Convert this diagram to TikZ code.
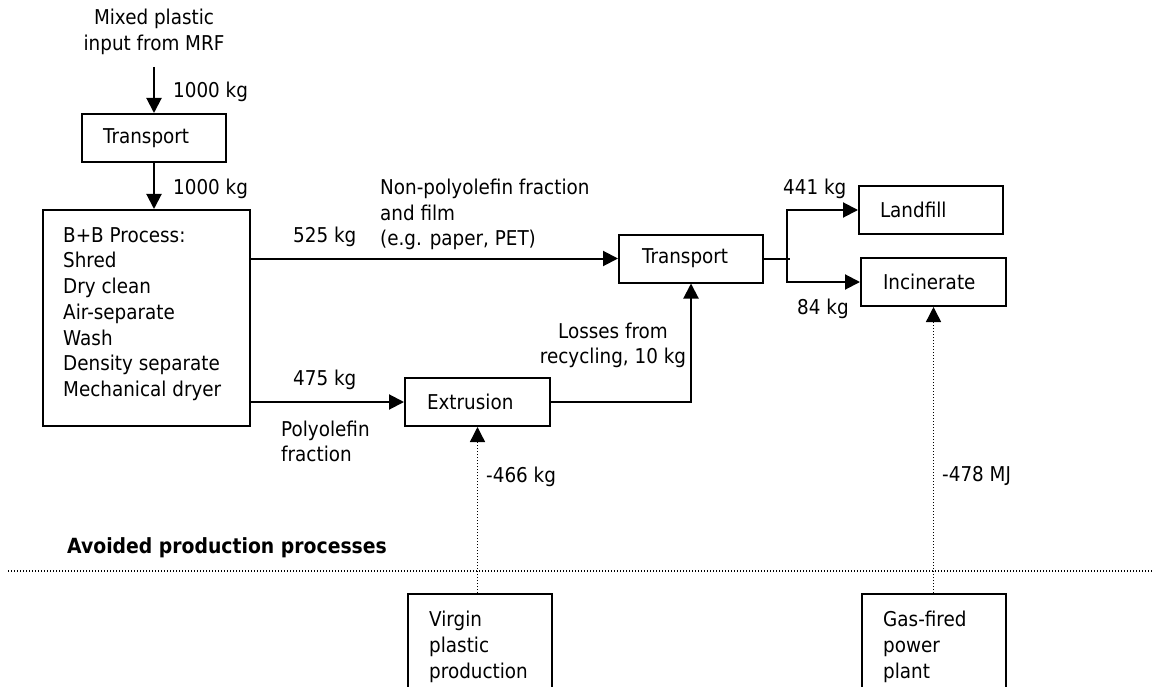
\documentclass[tikz,border=0pt]{standalone}
\usepackage{fontspec}
\setmainfont{DejaVu Sans}[FakeStretch=0.9]
\usetikzlibrary{arrows.meta}
\tikzset{
  every node/.style={font=\fontsize{20.4}{25.7}\selectfont, inner sep=0pt},
  box/.style={draw, line width=2pt, minimum width=144pt, minimum height=48pt, align=left, text width=100pt},
  plain/.style={draw, line width=2pt},
  lbl/.style={anchor=west, align=left},
  arr/.style={line width=2pt, -{Triangle[length=15pt,width=15pt]}},
  ln/.style={line width=2pt},
  dot/.style={line width=1.4pt, dash pattern=on 1.2pt off 1.8pt},
  darr/.style={dot, -{Triangle[length=15pt,width=15pt]}},
}
\begin{document}
\begin{tikzpicture}[x=1pt, y=-1pt]
\clip (0,0) rectangle (1153,687);
\fill[white] (0,0) rectangle (1153,687);

% top input
\node[align=center] (in1) at (154,32) {Mixed plastic\\input from MRF};
\coordinate (inS) at (154,67);
\node[box, text width=102pt, inner xsep=21pt] (T1) at (154,138) {Transport};
\node[lbl] (kg1) at (173,92) {1000 kg};
\node[lbl] (kg2) at (173,189) {1000 kg};

% B+B box
\node[plain, minimum width=207pt, minimum height=216pt] (BB) at (146.5,318) {};
\node[lbl] (BBt) at (63,314) {B+B Process:\\Shred\\Dry clean\\Air-separate\\Wash\\Density separate\\Mechanical dryer};

% transport 2
\node[box, text width=98pt, inner xsep=23pt] (T2) at (691,258.5) {Transport};
% extrusion
\node[box, text width=101pt, inner xsep=22pt, minimum width=145pt] (EX) at (477.5,402) {Extrusion};
% landfill, incinerate
\node[box, text width=102pt, inner xsep=21pt] (LF) at (931,210) {Landfill};
\node[box, text width=101pt, inner xsep=22pt, minimum width=145pt] (INC) at (933.5,282) {Incinerate};

% labels
\node[lbl] (l525) at (293,237) {525 kg};
\node[lbl] (lnon) at (380,214.5) {Non-polyolefin fraction\\and film\\(e.g. paper, PET)};
\node[lbl] (l475) at (293,380) {475 kg};
\node[lbl] (lpoly) at (281,441.5) {Polyolefin\\fraction};
\node[align=center] (lloss) at (613,345.5) {Losses from\\recycling, 10 kg};
\node[lbl] (l441) at (783,189) {441 kg};
\node[lbl] (l84) at (797,309) {84 kg};
\node[lbl] (l466) at (486,477) {-466 kg};
\node[lbl] (l478) at (942,476) {-478 MJ};
\node[lbl, font=\fontsize{20.9}{25.7}\selectfont\bfseries] (avoid) at (67,548) {Avoided production processes};

% avoided boxes (cut off at bottom)
\node[plain, minimum width=144pt, minimum height=140pt] (VP) at (480,664) {};
\node[lbl] (VPt) at (429,647) {Virgin\\plastic\\production};
\node[plain, minimum width=144pt, minimum height=140pt] (GP) at (934,664) {};
\node[lbl] (GPt) at (883,647) {Gas-fired\\power\\plant};

% separator
\coordinate (sepL) at (8,571);
\coordinate (sepR) at (1153,571);
\draw[dot] (sepL) -- (sepR);

% connectors
\draw[arr] (inS) -- (T1.north);
\draw[arr] (T1.south) -- (T1.south |- BB.north);
\draw[arr] (T2.west -| BB.east) -- (T2.west);
\draw[arr] (EX.west -| BB.east) -- (EX.west);
\draw[arr] (EX.east) -| (T2.south);
\coordinate (sp) at (787,258.5);
\draw[ln] (T2.east) -- ([xshift=3pt]sp);
\draw[arr] (sp) -- (sp |- LF.west) -- (LF.west);
\draw[arr] (sp) -- (sp |- INC.west) -- (INC.west);
\draw[darr] (EX.south |- VP.north) -- (EX.south);
\draw[darr] (INC.south |- GP.north) -- (INC.south);
\end{tikzpicture}
\end{document}
